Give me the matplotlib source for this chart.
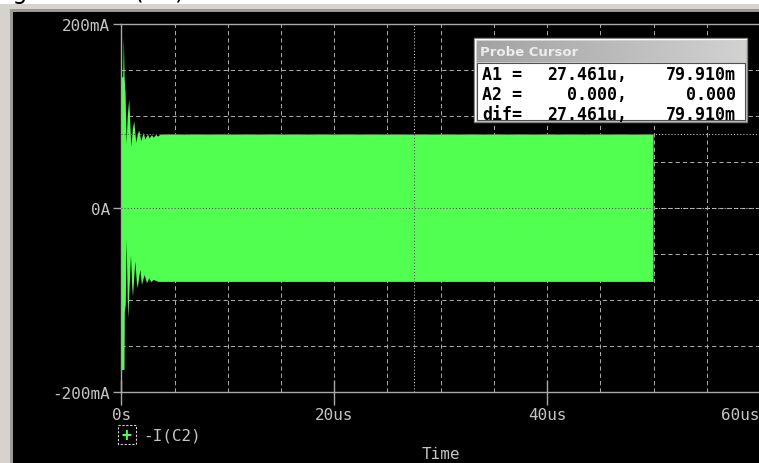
import numpy as np
import matplotlib
matplotlib.use("Agg")
import matplotlib.pyplot as plt
from matplotlib.patches import Rectangle
from matplotlib.colors import LinearSegmentedColormap
from matplotlib.ticker import MultipleLocator

# ---- waveform: -I(C2), envelope of the fast oscillation (time in us, current in mA)
t_upper = [0.00, 0.18, 0.24, 0.31, 0.40, 0.50, 0.60, 0.75, 0.94, 1.08, 1.22,
           1.41, 1.55, 1.69, 1.88, 2.10, 2.26, 2.51, 2.66, 2.88, 3.04, 3.30,
           3.45, 3.70, 50.0]
i_upper = [142.0, 142.0, 185.5, 142.0, 125.0, 69.0, 100.0, 118.0, 67.0, 85.0,
           94.5, 71.0, 80.0, 84.3, 72.7, 81.8, 74.5, 80.0, 75.6, 79.3, 76.4,
           79.6, 77.5, 79.91, 79.91]
t_lower = [0.00, 0.30, 0.33, 0.42, 0.50, 0.60, 0.66, 0.91, 1.02, 1.10, 1.32,
           1.45, 1.54, 1.79, 1.94, 2.19, 2.41, 2.63, 2.82, 3.04, 3.50, 50.0]
i_lower = [-176.0, -176.0, -113.0, -105.0, -33.0, -100.0, -120.0, -51.0, -85.0,
           -96.4, -58.0, -80.0, -87.3, -67.3, -83.7, -72.8, -81.8, -76.4, -80.7,
           -78.2, -80.3, -80.3]

series_label = "-I(C2)"

# ---- axis ticks
x_ticks = [0, 20, 40, 60]
x_tick_labels = ["0s", "20us", "40us", "60us"]
y_ticks = [-200, 0, 200]
y_tick_labels = ["-200mA", "0A", "200mA"]

# ---- probe cursors (time in us, value in mA)
cursor_a1 = (27.461, 79.910)
cursor_a2 = (0.0, 0.0)

W, H, DPI = 759, 464, 100
GREEN = "#50ff50"
XOR_MAGENTA = "#b000b0"
CURSOR_GRAY = "#d0d0d0"
GRID = "#a8a8a8"
LABEL = "#c4c4c4"
MONO = "DejaVu Sans Mono"

fig = plt.figure(figsize=(W / DPI, H / DPI), dpi=DPI, facecolor="white")

# window frame and black plot window, in pixel coordinates
bg = fig.add_axes([0, 0, 1, 1], zorder=0)
bg.set_xlim(0, W)
bg.set_ylim(H, 0)
bg.axis("off")
bg.text(-6, -1.0, "Figure 10: " + series_label, color="black", fontsize=17,
        family="DejaVu Sans", va="baseline", ha="left", zorder=0)
bg.add_patch(Rectangle((0, 5), W, H, color="#d6d3ce", lw=0, zorder=1))
bg.add_patch(Rectangle((10, 10), W, H, color="#9c9a94", lw=0, zorder=1))
bg.add_patch(Rectangle((13, 13), W, H, color="black", lw=0, zorder=1))

# main plot area
x0_px, x1_px, ytop_px, ybot_px = 121.3, 760.0, 25.0, 393.0
ax = fig.add_axes([x0_px / W, 1 - ybot_px / H, (x1_px - x0_px) / W,
                   (ybot_px - ytop_px) / H], zorder=1)
ax.set_facecolor("none")
ax.set_xlim(0, 60)
ax.set_ylim(-200, 200)

for side in ("top", "bottom", "left"):
    ax.spines[side].set_color("#a8a8a8")
    ax.spines[side].set_linewidth(1.0)
ax.spines["right"].set_visible(False)

ax.set_xticks(x_ticks, labels=x_tick_labels)
ax.set_yticks(y_ticks, labels=y_tick_labels)
ax.xaxis.set_minor_locator(MultipleLocator(5))
ax.yaxis.set_minor_locator(MultipleLocator(50))
ax.tick_params(axis="x", which="major", direction="inout", length=18,
               width=1.0, color="#a8a8a8", pad=2, labelcolor=LABEL,
               labelsize=11.5)
ax.tick_params(axis="y", which="major", direction="out", length=6,
               width=1.0, color="#a8a8a8", pad=2, labelcolor=LABEL,
               labelsize=11.5)
ax.tick_params(which="minor", length=0)
for lab in ax.get_xticklabels() + ax.get_yticklabels():
    lab.set_family(MONO)
# the last time label is kept inside the window
ax.get_xticklabels()[-1].set_ha("right")

ax.set_axisbelow(True)
ax.grid(which="both", color=GRID, linestyle=(0, (4, 3)), linewidth=0.75)

ax.set_xlabel("Time", color=LABEL, family=MONO, fontsize=11.5, labelpad=17)

# waveform band
ax.fill(np.r_[t_upper, t_lower[::-1]], np.r_[i_upper, i_lower[::-1]],
        color=GREEN, lw=0, zorder=2)

# probe cursors (XOR style: magenta over the trace, light over black)
dot = (0, (1, 2))
t_end = t_upper[-1]
for (ct, cv) in (cursor_a1, cursor_a2):
    ax.hlines(cv, 0, 60, colors=CURSOR_GRAY, linestyles=dot, lw=0.75, zorder=3)
    ax.hlines(cv, 0, t_end, colors=XOR_MAGENTA, linestyles=dot, lw=0.75, zorder=4)
ct = cursor_a1[0]
ax.vlines(ct, -200, 200, colors=CURSOR_GRAY, linestyles=dot, lw=0.75, zorder=3)
ax.vlines(ct, i_lower[-1], i_upper[-1], colors=XOR_MAGENTA, linestyles=dot,
          lw=0.75, zorder=4)

# overlay: legend entry and probe cursor window
ov = fig.add_axes([0, 0, 1, 1], zorder=5)
ov.set_facecolor("none")
ov.axis("off")

ov.add_patch(Rectangle((118, 426), 18, 19, fill=False, ec="#d8d8d8",
                       lw=0.8, ls=(0, (2, 1.5))))
ov.text(127, 436, "+", color=GREEN, fontsize=12, family=MONO,
        fontweight="bold", ha="center", va="center")
ov.text(143, 436, series_label, color=LABEL, fontsize=11.5, family=MONO,
        ha="left", va="center")

ov.add_patch(Rectangle((474, 39), 273, 84, fc="#d4d0c8", ec="#808080", lw=1))
ov.plot([475, 746], [40, 40], color="white", lw=0.8)
ov.plot([475, 475], [40, 122], color="white", lw=0.8)
grad = np.linspace(0, 1, 256).reshape(1, -1)
ov.imshow(grad, extent=(477, 745, 63, 42),
          cmap=LinearSegmentedColormap.from_list("bar", ["#a2a2a2", "#d2d2d2"]),
          aspect="auto", zorder=2)
ov.text(480, 52.5, "Probe Cursor", color="#ececec", fontsize=9.5,
        family="DejaVu Sans", fontweight="bold", ha="left", va="center",
        zorder=3)
ov.add_patch(Rectangle((477, 63.5), 268, 57.5, fc="white", ec="#505050",
                       lw=0.8, zorder=2))

dt = cursor_a1[0] - cursor_a2[0]
dv = cursor_a1[1] - cursor_a2[1]


def fmt_t(v):
    return f"{v:.3f}u," if v != 0 else f"{v:.3f},"


def fmt_v(v):
    return f"{v:.3f}m" if v != 0 else f"{v:.3f}"


rows = [("A1 =", cursor_a1[0], cursor_a1[1]),
        ("A2 =", cursor_a2[0], cursor_a2[1]),
        ("dif=", dt, dv)]
for k, (name, tv, vv) in enumerate(rows):
    y = 75.5 + 20 * k
    ov.text(482, y, name, color="black", fontsize=12, family=MONO,
            fontweight="bold", ha="left", va="center", zorder=3)
    ov.text(627, y, fmt_t(tv), color="black", fontsize=12, family=MONO,
            fontweight="bold", ha="right", va="center", zorder=3)
    ov.text(736, y, fmt_v(vv), color="black", fontsize=12, family=MONO,
            fontweight="bold", ha="right", va="center", zorder=3)

ov.set_xlim(0, W)
ov.set_ylim(H, 0)

fig.savefig("out.png", dpi=DPI, facecolor="white")
